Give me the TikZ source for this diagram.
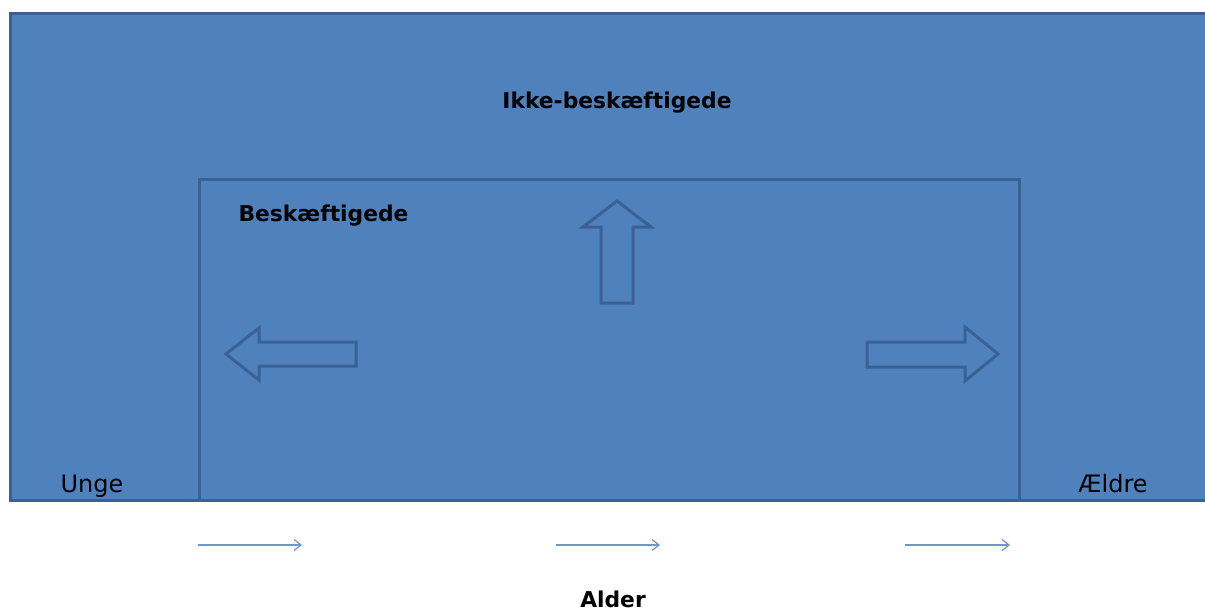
\documentclass[tikz,border=0pt]{standalone}
\usepackage{fontspec}
\setmainfont{DejaVu Sans}
\usetikzlibrary{arrows.meta}
\definecolor{boxfill}{HTML}{4F81BD}
\definecolor{boxline}{HTML}{3A6192}
\definecolor{axisline}{HTML}{6E97CC}
\tikzset{
  region/.style={draw=boxline, fill=boxfill, line width=3pt},
  blockarrow/.style={draw=boxline, line width=3pt, line join=miter},
  ageflow/.style={draw=axisline, line width=1.4pt, -{Straight Barb[length=7pt,width=11pt,line width=1.2pt]}},
  heading/.style={font=\bfseries\fontsize{21.8}{25}\selectfont, anchor=base, inner sep=0pt},
  endlabel/.style={font=\fontsize{24}{28}\selectfont, anchor=base, inner sep=0pt},
}
\begin{document}
\begin{tikzpicture}[x=1pt, y=-1pt]
  \useasboundingbox (0,0) rectangle (1205,610);

  % non-employed population (open to the right)
  \path[region] (1212,14) -- (10,14) -- (10,500) -- (1212,500);
  \fill[boxfill] (11.5,15.5) rectangle (1212,498.5);

  % employed population
  \draw[region] (199,179) rectangle (1019,500);

  % flows out of employment
  \draw[blockarrow] (356,342) -- (259,342) -- (259,328) -- (226,354)
                     -- (259,380) -- (259,366) -- (356,366) -- cycle;
  \draw[blockarrow] (601,303) -- (601,227) -- (583,227) -- (617,201)
                     -- (651,227) -- (633,227) -- (633,303) -- cycle;
  \draw[blockarrow] (867,342) -- (965,342) -- (965,327) -- (998,354)
                     -- (965,381) -- (965,367) -- (867,367) -- cycle;

  % labels
  \node[heading] (ikke) at (617,108) {Ikke-beskæftigede};
  \node[heading] (besk) at (323.5,221) {Beskæftigede};
  \node[endlabel] (unge) at (92,492) {Unge};
  \node[endlabel] (aeldre) at (1113,492) {Ældre};
  \node[heading] (alder) at (613,607) {Alder};

  % age axis
  \coordinate (a1) at (198,545); \coordinate (b1) at (302,545);
  \coordinate (a2) at (556,545); \coordinate (b2) at (660,545);
  \coordinate (a3) at (905,545); \coordinate (b3) at (1010,545);
  \draw[ageflow] (a1) -- (b1);
  \draw[ageflow] (a2) -- (b2);
  \draw[ageflow] (a3) -- (b3);
\end{tikzpicture}
\end{document}
